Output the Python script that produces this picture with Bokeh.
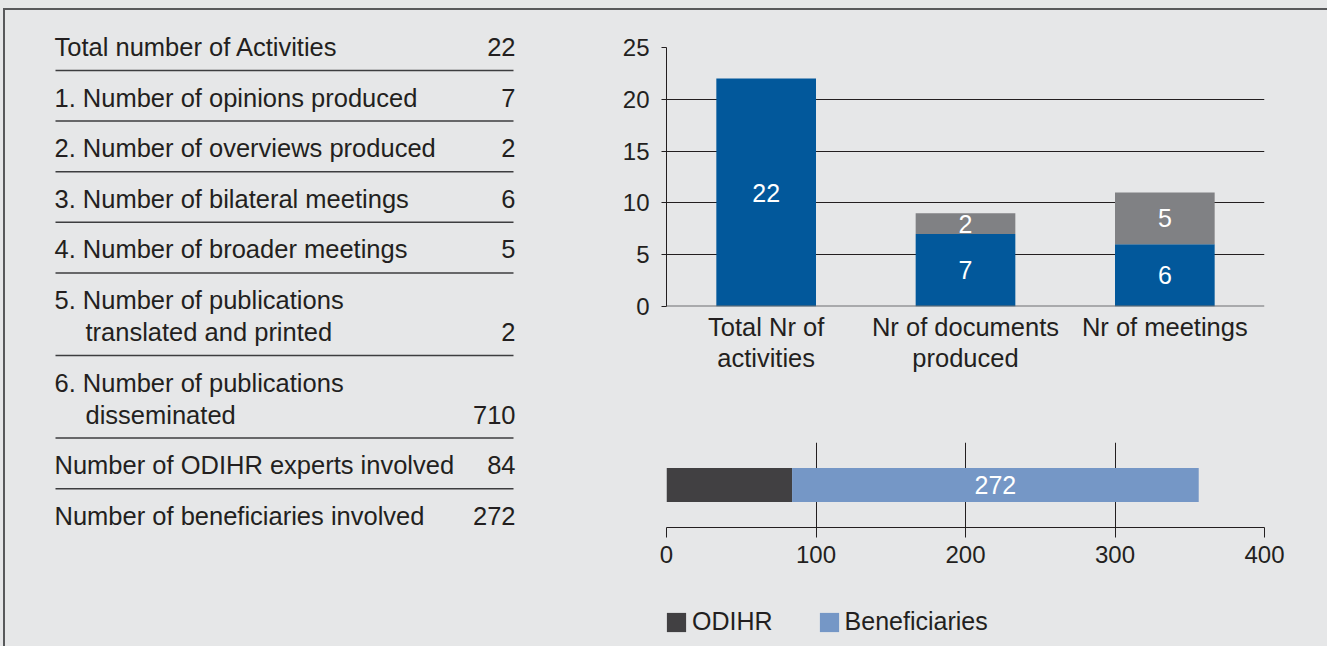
from bokeh.plotting import figure
from bokeh.layouts import row, column
from bokeh.models import (Range1d, FactorRange, ColumnDataSource, FixedTicker,
                          Legend, LegendItem, Span)
from bokeh.embed import file_html
from bokeh.resources import INLINE
from bokeh.core.properties import value

# ---------------- data ----------------
table_labels = [
    ["Total number of Activities"],
    ["1. Number of opinions produced"],
    ["2. Number of overviews produced"],
    ["3. Number of bilateral meetings"],
    ["4. Number of broader meetings"],
    ["5. Number of publications", "translated and printed"],
    ["6. Number of publications", "disseminated"],
    ["Number of ODIHR experts involved"],
    ["Number of beneficiaries involved"],
]
table_values = [22, 7, 2, 6, 5, 2, 710, 84, 272]

bar_categories = ["Total Nr of\nactivities", "Nr of documents\nproduced", "Nr of meetings"]
bar_main = [22, 7, 6]
bar_secondary = [0, 2, 5]
bar_y_ticks = [0, 5, 10, 15, 20, 25]

people_group = ["People involved"]
people_series = ["ODIHR", "Beneficiaries"]
people_odihr = [84]
people_beneficiaries = [272]
people_ticks = [0, 100, 200, 300, 400]

# ---------------- style ----------------
BG = "#e6e7e8"
EDGE = "#58595b"
TEXT = "#231f20"
BLUE = "#02589b"
GRAY = "#808184"
DARK = "#414042"
LIGHT = "#7597c6"
FONT = "Liberation Sans"


def base_fig(**kw):
    return figure(output_backend="svg", toolbar_location=None,
                  background_fill_color=None, border_fill_color=None,
                  outline_line_color=None, **kw)


# ---------------- table ----------------
tf = base_fig(width=600, height=646, x_range=Range1d(0, 600), y_range=Range1d(646, 0),
              min_border=0, x_axis_location=None, y_axis_location=None)
tf.grid.visible = False

ROW_PITCH, LINE_STEP = 50.6, 32.0
lx, ly, lt, vy, vt, seps = [], [], [], [], [], []
b = 55.5
for i, (lines, val) in enumerate(zip(table_labels, table_values)):
    for j, t in enumerate(lines):
        lx.append(54 if j == 0 else 85)
        ly.append(b + j * LINE_STEP - 9)
        lt.append(t)
    last = b + (len(lines) - 1) * LINE_STEP
    vy.append(last - 9)
    vt.append(str(val))
    if i < len(table_labels) - 1:
        seps.append(last + 14.5)
    b = last + ROW_PITCH

tf.segment(x0=55, x1=513, y0=seps, y1=seps, line_color="#3d3d3f", line_width=1.5)
tf.text(x=lx, y=ly, text=lt, text_font=value(FONT), text_font_size="25.5px",
        text_color=TEXT, text_baseline="middle", text_align="left")
tf.text(x=[515] * len(vt), y=vy, text=vt, text_font=value(FONT), text_font_size="25.5px",
        text_color=TEXT, text_baseline="middle", text_align="right")

# ---------------- stacked column chart ----------------
bf = base_fig(width=727, height=400,
              x_range=FactorRange(*bar_categories, range_padding=0),
              y_range=Range1d(0, 25),
              min_border_left=66, min_border_right=63, min_border_top=47, min_border_bottom=94)
bsrc = ColumnDataSource(dict(cat=bar_categories, main=bar_main, secondary=bar_secondary))
bf.vbar_stack(["main", "secondary"], x="cat", width=0.5, fill_color=[BLUE, GRAY],
              line_color=None, source=bsrc)

main_lab = ColumnDataSource(dict(cat=bar_categories, y=[m / 2 for m in bar_main],
                                 t=[str(m) for m in bar_main]))
sec_idx = [i for i, s in enumerate(bar_secondary) if s > 0]
sec_lab = ColumnDataSource(dict(cat=[bar_categories[i] for i in sec_idx],
                                y=[bar_main[i] + bar_secondary[i] / 2 for i in sec_idx],
                                t=[str(bar_secondary[i]) for i in sec_idx]))
for s in (main_lab, sec_lab):
    bf.text(x="cat", y="y", text="t", source=s, text_font=value(FONT), text_font_size="25px",
            text_color="white", text_align="center", text_baseline="middle")

bf.add_layout(Span(location=0, dimension="width", line_color="#6d6e71", line_width=2))

bf.xgrid.visible = False
bf.ygrid.ticker = FixedTicker(ticks=bar_y_ticks)
bf.ygrid.grid_line_color = TEXT
bf.ygrid.grid_line_width = 1

bf.xaxis.axis_line_color = None
bf.xaxis.major_tick_line_color = None
bf.xaxis.minor_tick_line_color = None
bf.xaxis.major_label_standoff = 0
bf.xaxis.major_label_text_font = FONT
bf.xaxis.major_label_text_font_size = "25.5px"
bf.xaxis.major_label_text_color = TEXT
bf.xaxis.major_label_text_line_height = 1.12

bf.yaxis.ticker = FixedTicker(ticks=bar_y_ticks)
bf.yaxis.axis_line_color = TEXT
bf.yaxis.major_tick_line_color = TEXT
bf.yaxis.major_tick_out = 5
bf.yaxis.major_tick_in = 0
bf.yaxis.minor_tick_line_color = None
bf.yaxis.major_label_standoff = 12
bf.yaxis.major_label_text_font = FONT
bf.yaxis.major_label_text_font_size = "24px"
bf.yaxis.major_label_text_color = TEXT

# ---------------- stacked horizontal bar ----------------
hf = base_fig(width=727, height=175, x_range=Range1d(0, 400),
              y_range=FactorRange(*people_group, range_padding=0),
              y_axis_location=None,
              min_border_left=66, min_border_right=63, min_border_top=42, min_border_bottom=48)
hsrc = ColumnDataSource(dict(group=people_group, ODIHR=people_odihr,
                             Beneficiaries=people_beneficiaries))
hf.hbar_stack(people_series, y="group", height=0.4, fill_color=[DARK, LIGHT],
              line_color=None, source=hsrc)
hf.text(x=[o + bval / 2 for o, bval in zip(people_odihr, people_beneficiaries)],
        y=people_group, text=[str(v) for v in people_beneficiaries],
        text_font=value(FONT), text_font_size="25px", text_color="white",
        text_align="center", text_baseline="middle")

hf.ygrid.visible = False
hf.xgrid.ticker = FixedTicker(ticks=people_ticks)
hf.xgrid.grid_line_color = TEXT
hf.xgrid.grid_line_width = 1
hf.xaxis.ticker = FixedTicker(ticks=people_ticks)
hf.xaxis.axis_line_color = TEXT
hf.xaxis.major_tick_line_color = TEXT
hf.xaxis.major_tick_out = 10
hf.xaxis.major_tick_in = 0
hf.xaxis.minor_tick_line_color = None
hf.xaxis.major_label_standoff = 8
hf.xaxis.major_label_text_font = FONT
hf.xaxis.major_label_text_font_size = "24px"
hf.xaxis.major_label_text_color = TEXT

# ---------------- legend strip (legend-only, hidden renderers) ----------------
lf = base_fig(width=727, height=71, x_range=Range1d(0, 400),
              y_range=FactorRange(*people_group, range_padding=0),
              x_axis_location=None, y_axis_location=None,
              min_border_left=66, min_border_right=63, min_border_top=0, min_border_bottom=0)
lf.grid.visible = False
lr = lf.hbar_stack(people_series, y="group", height=0.4, fill_color=[DARK, LIGHT],
                   line_color=None, source=hsrc)
for r in lr:
    r.visible = False
legend = Legend(items=[LegendItem(label=people_series[0], renderers=[lr[0]]),
                       LegendItem(label=people_series[1], renderers=[lr[1]])],
                orientation="horizontal", location=(-2, 10), click_policy="none",
                glyph_width=24, glyph_height=24, label_standoff=4, spacing=44,
                padding=0, margin=0, background_fill_alpha=0, border_line_color=None,
                label_text_font=FONT, label_text_font_size="25px", label_text_color=TEXT)
lf.add_layout(legend, "center")

page_bg = (f"linear-gradient({EDGE},{EDGE}) 3px 8px / 2px 638px no-repeat, "
           f"linear-gradient({EDGE},{EDGE}) 3px 8px / 1324px 2px no-repeat, {BG}")
layout = row(tf, column(bf, hf, lf, spacing=0), spacing=0,
             styles={"background": page_bg})

open("out.html", "w").write(file_html(layout, INLINE))
